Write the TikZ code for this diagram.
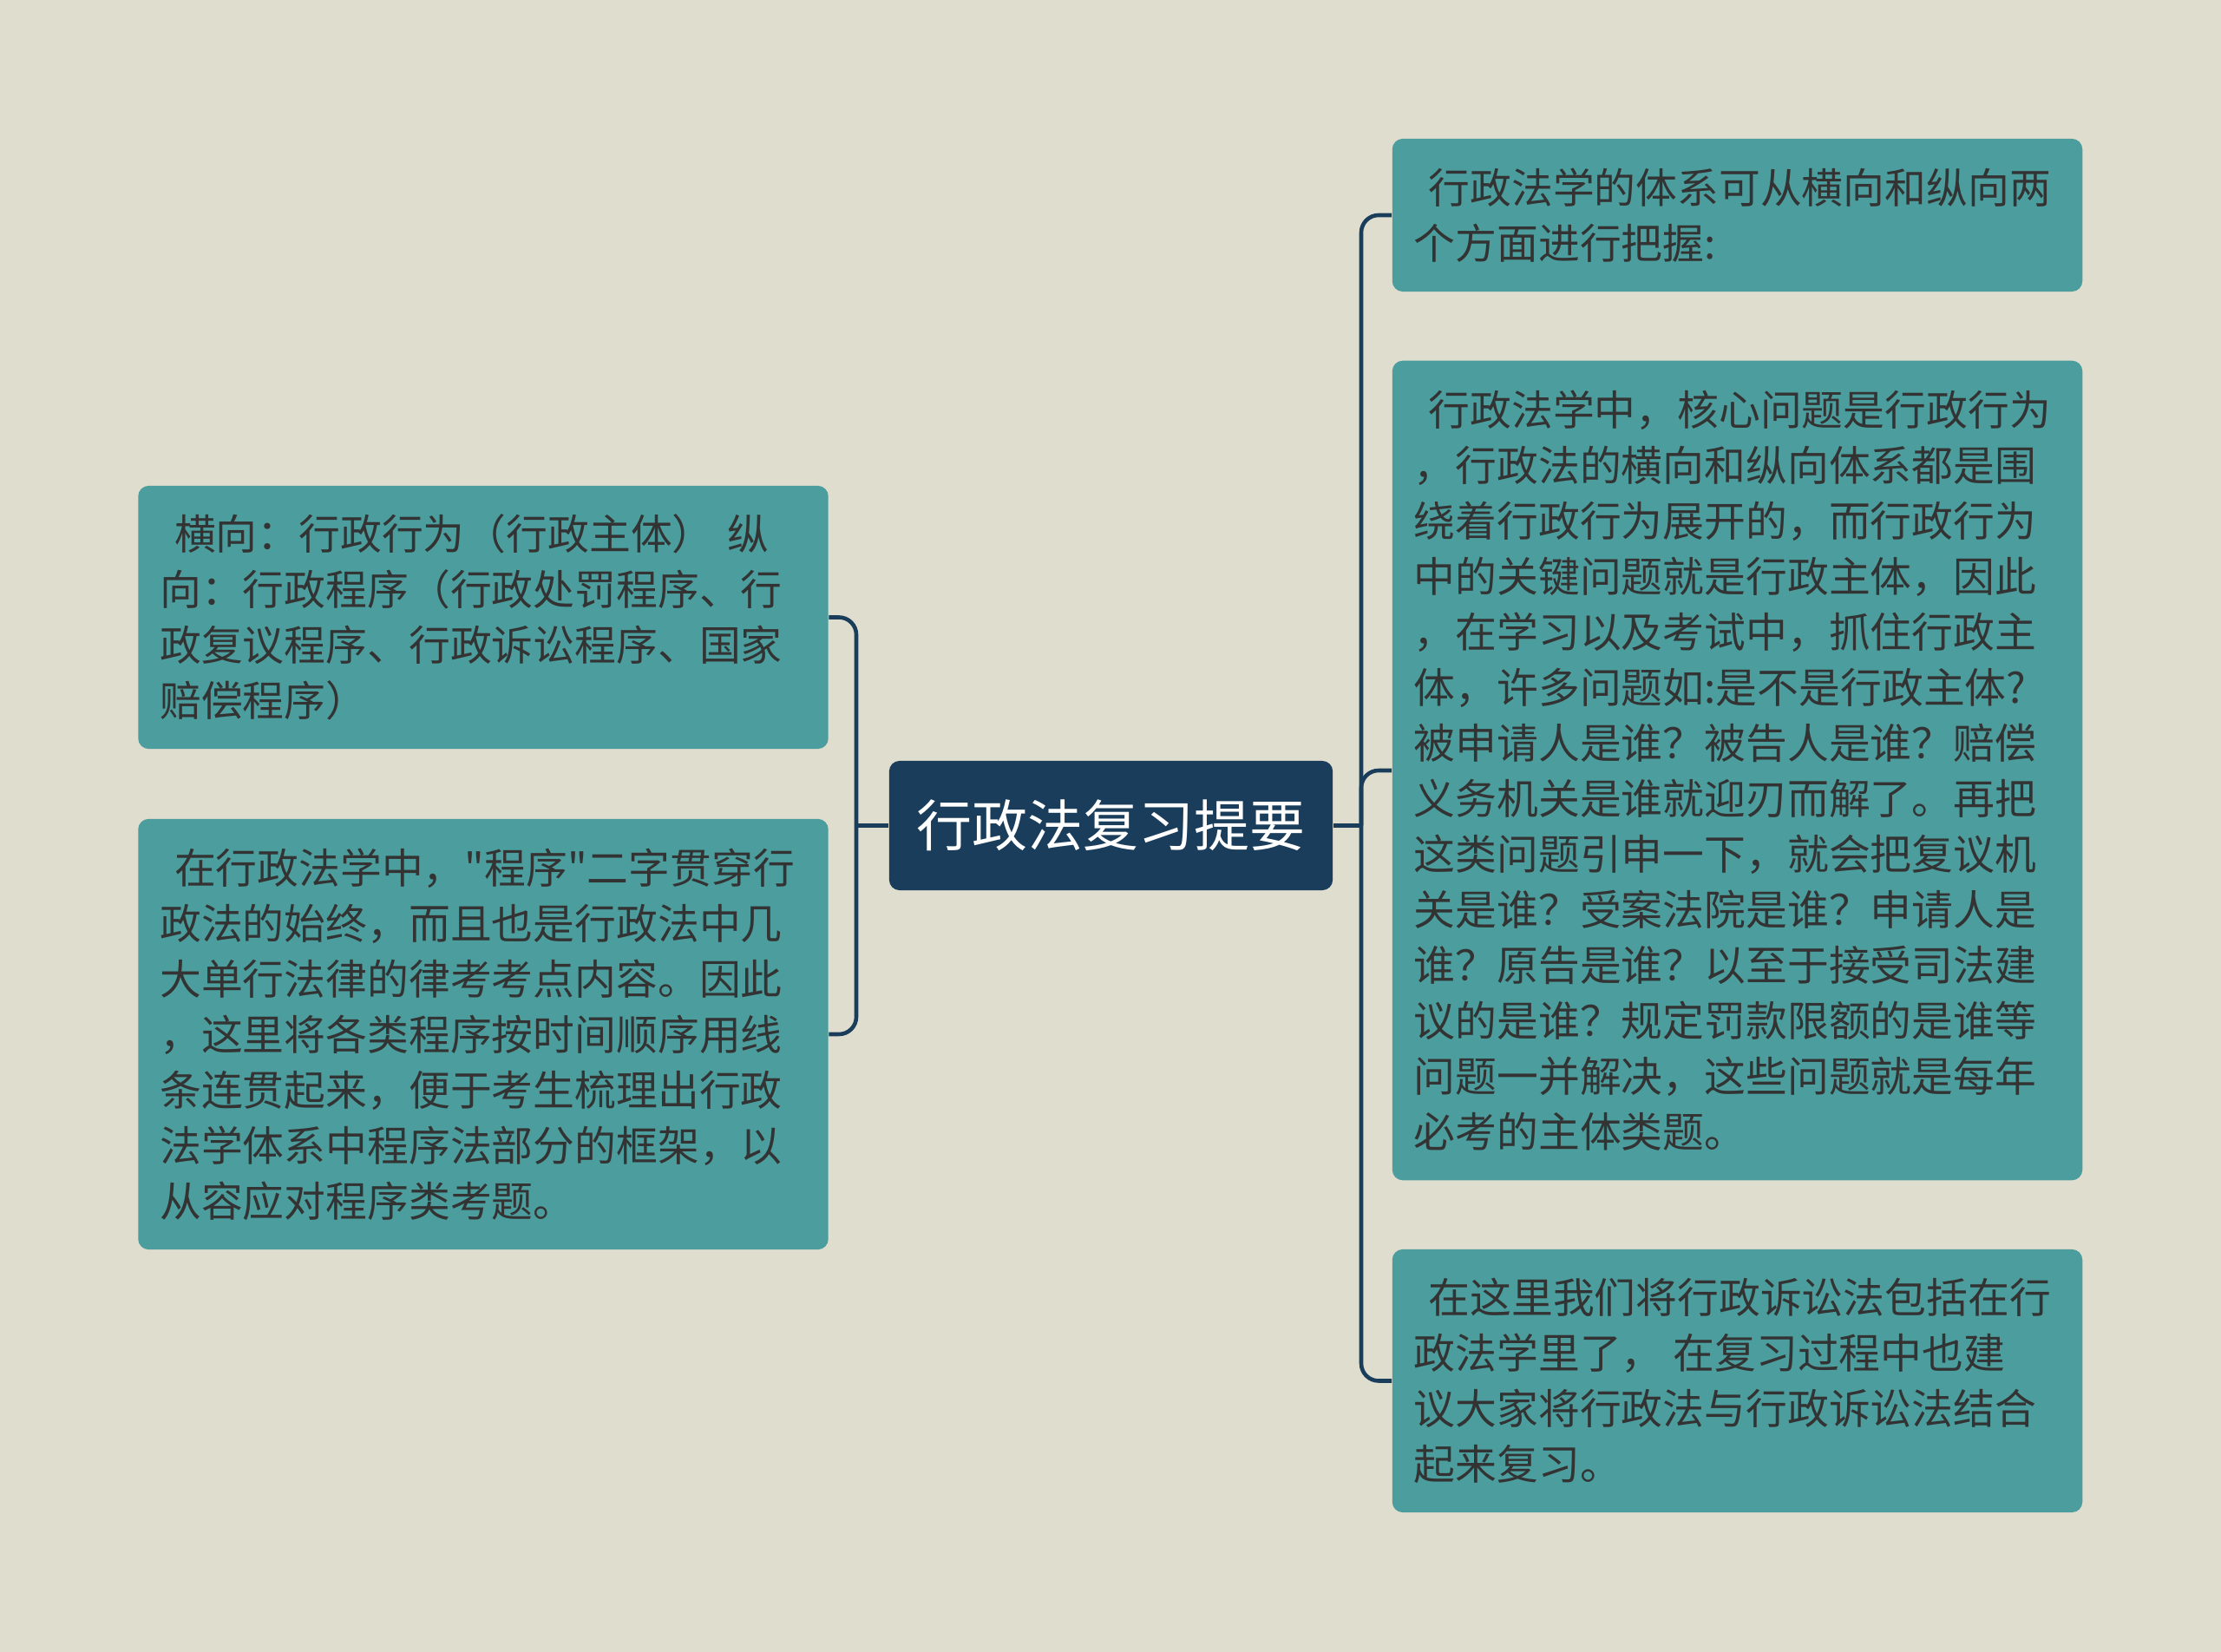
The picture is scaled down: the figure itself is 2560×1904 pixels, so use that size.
\documentclass[tikz,border=0pt]{standalone}
\usepackage{fontspec}
\newfontfamily\cjk{Noto Sans CJK SC}
\usetikzlibrary{calc}

\definecolor{bgbeige}{RGB}{223,221,206}
\definecolor{boxteal}{RGB}{76,157,157}
\definecolor{rootnavy}{RGB}{25,61,91}
\definecolor{textgrey}{RGB}{51,51,51}
\newcommand{\leadsp}{\hspace*{0.35em}}

\begin{document}
\begin{tikzpicture}[x=0.01cm,y=-0.01cm,
		leaf/.style={fill=boxteal,rounded corners=0.12cm,text=textgrey,align=left,inner xsep=0.25cm,inner ysep=0pt,minimum width=7.95cm,text width=7.45cm,font=\cjk\fontsize{13.6pt}{18.2pt}\selectfont},
		root/.style={fill=rootnavy,rounded corners=0.12cm,text=white,inner sep=0pt,minimum width=5.11cm,minimum height=1.49cm,font=\cjk\fontsize{18.2pt}{22pt}\selectfont},
		link/.style={draw=rootnavy,line width=1.3pt,rounded corners=0.2cm}]
			\fill[bgbeige] (0,0) rectangle (2560,1904);
			
			\node[root] (yaodian) at (1280.5,951.5) {行政法复习提要};
			
			\node[leaf,minimum height=3.03cm] (hengzong) at (557,711.5) {\leadsp 横向：行政行为（行政主体） 纵\\向：行政程序（行政处罚程序、行\\政复议程序、行政诉讼程序、国家\\赔偿程序）};
			
			\node[leaf,minimum height=4.96cm] (chengxu) at (557,1192) {\leadsp 在行政法学中，"程序"二字贯穿行\\政法的始终，而且也是行政法中几\\大单行法律的律考考点内容。因此\\，这里将各类程序按时间顺序用线\\条连贯起来，便于考生梳理出行政\\法学体系中程序法部分的框架，以\\从容应对程序类考题。};
			
			\node[leaf,minimum height=1.76cm] (tixi) at (2002.5,248) {\leadsp 行政法学的体系可从横向和纵向两\\个方面进行把握:};
			
			\node[leaf,minimum height=9.44cm] (zhuti) at (2002.5,888) {\leadsp 行政法学中，核心问题是行政行为\\，行政法的横向和纵向体系都是围\\绕着行政行为展开的，而行政行为\\中的关键问题就是行政主体，因此\\，在学习以及考试中，抓住行政主\\体，许多问题如:是不是行政主体?\\被申请人是谁？被告人是谁？赔偿\\义务机关是谁就迎刃而解了。再把\\这类问题引申一下，就会把复议机\\关是谁？受案法院是谁？申请人是\\谁？原告是谁？以至于接受司法建\\议的是谁？规定罚款限额的是谁等\\问题一并解决，这些问题就是每年\\必考的主体类题。};
			
			\node[leaf,minimum height=3.03cm] (susong) at (2002.5,1591.5) {\leadsp 在这里我们将行政诉讼法包括在行\\政法学里了，\hspace{0.25em}在复习过程中也建\\议大家将行政法与行政诉讼法结合\\起来复习。};
			
			% branch points
			\coordinate (ljoin) at (987,951.5);
			\coordinate (rjoin) at (1569,951.5);
			
			\draw[link] (yaodian.west) -- (ljoin);
			\draw[link] (hengzong.east) -| (ljoin) |- (chengxu.east);
			
			\draw[link] (yaodian.east) -- (rjoin);
			\draw[link] (tixi.west) -| (rjoin) |- (susong.west);
			\draw[link] (rjoin) |- (zhuti.west);
			
		\end{tikzpicture}
\end{document}
